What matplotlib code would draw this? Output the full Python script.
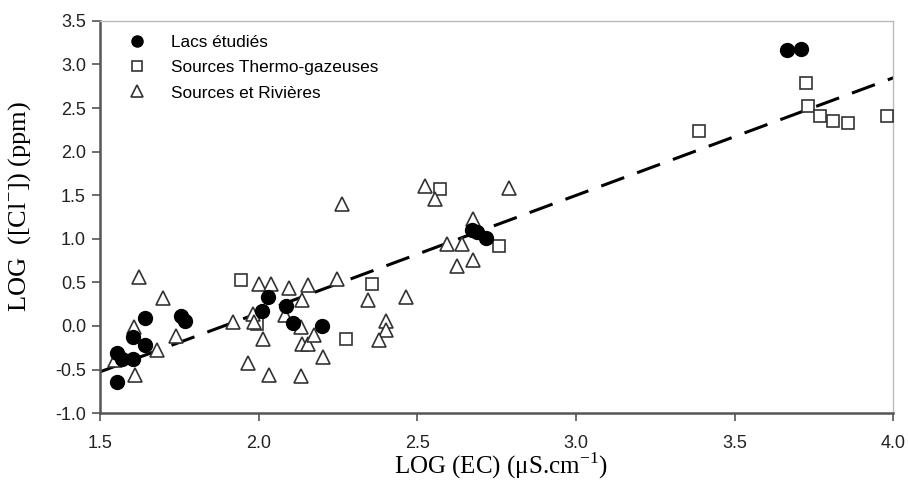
import matplotlib
matplotlib.use("Agg")
import matplotlib.pyplot as plt
import numpy as np

# Lacs étudiés
lacs_x = [1.553, 1.555, 1.570, 1.605, 1.603, 1.642, 1.642, 1.757, 1.768,
          2.011, 2.030, 2.086, 2.107, 2.201, 2.671, 2.687, 2.715, 3.666, 3.708]
lacs_y = [-0.642, -0.305, -0.374, -0.374, -0.126, -0.221, 0.092, 0.111, 0.057,
          0.172, 0.333, 0.229, 0.034, 0.000, 1.097, 1.078, 1.014, 3.162, 3.177]

# Sources thermo-gazeuses
thermo_x = [1.944, 1.994, 2.275, 2.356, 2.573, 2.758, 3.388, 3.725, 3.732,
            3.767, 3.808, 3.858, 3.981]
thermo_y = [0.524, 0.027, -0.145, 0.486, 1.576, 0.918, 2.233, 2.787, 2.520,
            2.408, 2.351, 2.333, 2.408]

# Sources et rivières
riv_x = [1.547, 1.624, 1.608, 1.610, 1.700, 1.739, 1.679, 1.920, 1.968, 1.983,
         1.985, 2.002, 2.038, 2.014, 2.033, 2.097, 2.083, 2.156, 2.138, 2.135,
         2.138, 2.156, 2.175, 2.135, 2.204, 2.248, 2.346, 2.401, 2.402, 2.380,
         2.465, 2.264, 2.525, 2.557, 2.790, 2.674, 2.592, 2.642, 2.624, 2.674]
riv_y = [-0.393, 0.562, -0.011, -0.565, 0.321, -0.118, -0.279, 0.046, -0.420, 0.142,
         0.046, 0.486, 0.486, -0.153, -0.565, 0.436, 0.123, 0.467, 0.295, -0.011,
         -0.202, -0.210, -0.107, -0.573, -0.355, 0.543, 0.303, 0.057, -0.049, -0.164,
         0.333, 1.404, 1.602, 1.461, 1.587, 1.232, 0.945, 0.937, 0.688, 0.753]

# droite de régression
slope = 1.35
intercept = -2.552

fig = plt.figure(figsize=(9.08, 4.86), dpi=100)
ax = fig.add_axes([0.110, 0.150, 0.874, 0.807])

edge = '#333333'
ax.plot(lacs_x, lacs_y, 'o', ms=10, mfc='black', mec='black', lw=0,
        label='Lacs étudiés', zorder=4)
ax.plot(thermo_x, thermo_y, 's', ms=9, mfc='white', mec=edge, mew=1.2, lw=0,
        label='Sources Thermo-gazeuses', zorder=3)
ax.plot(riv_x, riv_y, '^', ms=10, mfc='white', mec=edge, mew=1.2, lw=0,
        label='Sources et Rivières', zorder=3)

xl = np.array([1.5, 4.0])
ax.plot(xl, slope * xl + intercept, '--', color='black', lw=2.2,
        dashes=(8, 4.5), zorder=2)

ax.set_xlim(1.5, 4.0)
ax.set_ylim(-1.0, 3.5)
ax.set_xticks(np.arange(1.5, 4.01, 0.5))
ax.set_yticks(np.arange(-1.0, 3.51, 0.5))
ax.xaxis.set_major_formatter(matplotlib.ticker.FormatStrFormatter('%.1f'))
ax.yaxis.set_major_formatter(matplotlib.ticker.FormatStrFormatter('%.1f'))

for lab in ax.get_xticklabels() + ax.get_yticklabels():
    lab.set_fontfamily('Liberation Sans')
    lab.set_fontsize(13)
ax.tick_params(direction='out', length=6, width=1.2, color='#555555',
               labelcolor='#222222')
ax.tick_params(axis='x', pad=10)
ax.tick_params(axis='y', pad=4)

for s in ['left', 'bottom']:
    ax.spines[s].set_color('#555555')
    ax.spines[s].set_linewidth(1.8)
for s in ['top', 'right']:
    ax.spines[s].set_color('#bbbbbb')
    ax.spines[s].set_linewidth(1.0)

ax.set_xlabel(r'LOG (EC) ($\mathregular{\mu}$S.cm$^{\mathregular{-1}}$)',
              fontfamily='Liberation Serif', fontsize=18)
ax.set_ylabel(r'LOG  ([Cl$^{\mathregular{-}}$]) (ppm)',
              fontfamily='Liberation Serif', fontsize=19)
ax.xaxis.set_label_coords(0.5055, -0.096)
ax.yaxis.set_label_coords(-0.0845, 0.526)

leg = ax.legend(loc='upper left', frameon=False, prop={'family': 'Liberation Sans', 'size': 12.4},
                borderaxespad=0.4, borderpad=0.4, handletextpad=0.65,
                labelspacing=0.6, markerscale=0.8, handlelength=2.66)

fig.savefig('out.png', dpi=100)
